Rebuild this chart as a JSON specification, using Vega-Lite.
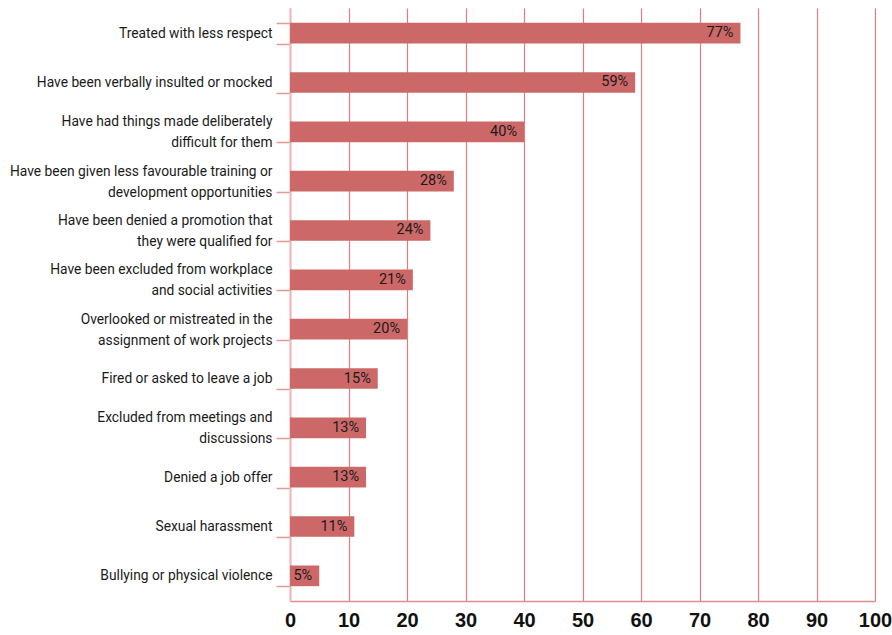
{
  "$schema": "https://vega.github.io/schema/vega-lite/v6.json",
  "autosize": {"type": "none"},
  "padding": {"left": 290, "top": 8, "right": 17, "bottom": 34},
  "width": 585,
  "height": 593,
  "background": "white",
  "data": {
    "values": [
      {"label": "Treated with less respect", "value": 77},
      {"label": "Have been verbally insulted or mocked", "value": 59},
      {"label": "Have had things made deliberately\ndifficult for them", "value": 40},
      {"label": "Have been given less favourable training or\ndevelopment opportunities", "value": 28},
      {"label": "Have been denied a promotion that\nthey were qualified for", "value": 24},
      {"label": "Have been excluded from workplace\nand social activities", "value": 21},
      {"label": "Overlooked or mistreated in the\nassignment of work projects", "value": 20},
      {"label": "Fired or asked to leave a job", "value": 15},
      {"label": "Excluded from meetings and\ndiscussions", "value": 13},
      {"label": "Denied a job offer", "value": 13},
      {"label": "Sexual harassment", "value": 11},
      {"label": "Bullying or physical violence", "value": 5}
    ]
  },
  "config": {
    "view": {"stroke": null},
    "font": "Roboto, sans-serif"
  },
  "encoding": {
    "y": {
      "field": "label",
      "type": "nominal",
      "sort": null,
      "scale": {"paddingInner": 0.58, "paddingOuter": 0.3},
      "axis": {
        "title": null,
        "labelExpr": "split(datum.label, '\\n')",
        "labelFont": "Roboto, sans-serif",
        "labelFontSize": 13.8,
        "labelColor": "#1a1a1a",
        "labelLineHeight": 21,
        "labelLimit": 300,
        "labelOffset": {"condition": {"test": "indexof(datum.label, '\\n') >= 0", "value": -10}, "value": 0},
        "tickBand": "extent",
        "tickSize": 14,
        "tickColor": "#e39a9a",
        "tickWidth": 1.5,
        "labelPadding": 4,
        "domainColor": "#f0b8b8",
        "domainWidth": 2,
        "grid": false
      }
    },
    "x": {
      "field": "value",
      "type": "quantitative",
      "scale": {"domain": [0, 100], "nice": false},
      "axis": {
        "title": null,
        "values": [0, 10, 20, 30, 40, 50, 60, 70, 80, 90, 100],
        "ticks": false,
        "labelFont": "Liberation Sans, Roboto, sans-serif",
        "labelFontWeight": "bold",
        "labelFontSize": 20,
        "labelColor": "#111111",
        "labelPadding": 9,
        "labelFlush": false,
        "domainColor": "#e08c8c",
        "domainWidth": 1.5,
        "grid": true,
        "gridColor": "#dc7f80",
        "gridWidth": 1.2,
        "gridOpacity": 1
      }
    }
  },
  "layer": [
    {
      "mark": {"type": "bar", "color": "#cd6868"}
    },
    {
      "transform": [{"calculate": "datum.value + '%'", "as": "pct"}],
      "mark": {"type": "text", "align": "right", "dx": -7, "fontSize": 14.5, "color": "#1a1a1a", "font": "Roboto, sans-serif"},
      "encoding": {
        "text": {"field": "pct", "type": "nominal"},
        "x": {"field": "value", "type": "quantitative"}
      }
    }
  ]
}
